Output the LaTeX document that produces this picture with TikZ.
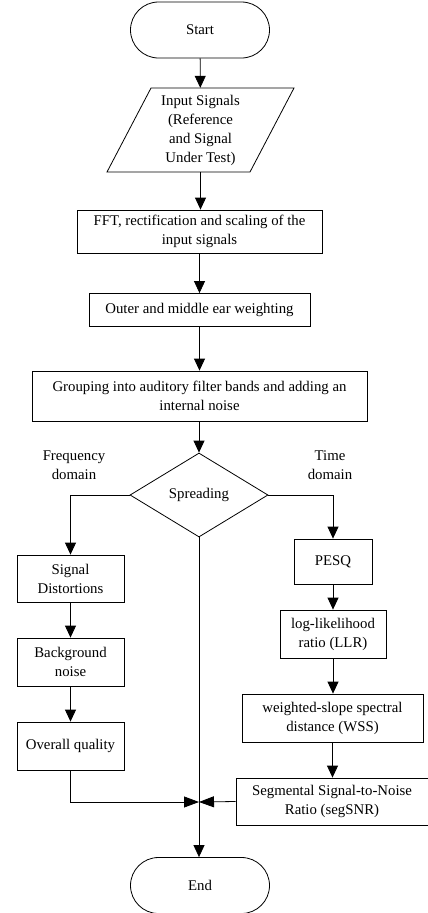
\documentclass[tikz,border=0pt]{standalone}
\usepackage{fontspec}
\setmainfont{Liberation Serif}
\usetikzlibrary{shapes.geometric,shapes.misc,arrows.meta,calc}
\begin{document}
\begin{tikzpicture}[x=1pt,y=-1pt,
  every node/.style={font=\fontsize{14.8}{19}\selectfont, inner sep=0pt, align=center},
  box/.style={draw, line width=0.8pt, minimum width=#1},
  term/.style={draw, line width=0.8pt, rounded rectangle, minimum width=139pt, minimum height=56pt},
  dia/.style={draw, line width=0.8pt, diamond, minimum width=138pt, minimum height=84pt},
  conn/.style={line width=0.8pt, -{Triangle[length=12pt,width=11pt]}},
  joinarr/.style={line width=0.8pt, -{Triangle[length=15pt,width=11pt]}}
]
\useasboundingbox (0,0) rectangle (428,913);
\node[term] (start) at (200,30) {Start};
\node[minimum width=143pt, minimum height=84pt] (inp) at (200.5,130) {Input Signals\\(Reference\\and Signal\\Under Test)};
\draw[line width=0.8pt] ($(inp.center)+(-49.5,-42)$) -- ($(inp.center)+(93.5,-42)$) -- ($(inp.center)+(49.5,42)$) -- ($(inp.center)+(-93.5,42)$) -- cycle;
\node[box=245pt, minimum height=43pt] (fft) at (199.5,231.5) {FFT, rectification and scaling of the\\input signals};
\node[box=221pt, minimum height=33pt] (outer) at (199.5,310) {Outer and middle ear weighting};
\node[box=335pt, minimum height=50pt] (group) at (199.5,396) {Grouping into auditory filter bands and adding an\\internal noise};
\node[dia] (spr) at (199,495) {Spreading};
\node (freq) at (74,465) {Frequency\\domain};
\node (time) at (330,465) {Time\\domain};
\node[box=107pt, minimum height=47pt] (sigd) at (70.5,578.5) {Signal\\Distortions};
\node[box=107pt, minimum height=48pt] (bg) at (70.5,662) {Background\\noise};
\node[box=107pt, minimum height=48pt] (oq) at (70.5,746) {Overall quality};
\node[box=78pt, minimum height=45pt] (pesq) at (333,561.5) {PESQ};
\node[box=106pt, minimum height=48pt] (llr) at (333,634) {log-likelihood\\ratio (LLR)};
\node[box=181pt, minimum height=48pt] (wss) at (332.5,718) {weighted-slope spectral\\distance (WSS)};
\node[box=192pt, minimum height=47pt] (seg) at (332,801.5) {Segmental Signal-to-Noise\\Ratio (segSNR)};
\coordinate (join) at (199,802);
\node[term] (end) at (200,885.5) {End};

\draw[conn] (start) -- (inp);
\draw[conn] (inp.south) -- (fft.north -| inp.south);
\draw[conn] (fft) -- (outer);
\draw[conn] (outer) -- (group);
\draw[conn] (group.south -| spr.north) -- (spr.north);
\draw[conn] (spr.west) -| (sigd.north);
\draw[conn] (spr.east) -| (pesq.north);
\draw[conn] (sigd) -- (bg);
\draw[conn] (bg) -- (oq);
\draw[conn] (pesq) -- (llr);
\draw[conn] (llr) -- (wss.north -| llr.south);
\draw[conn] (wss) -- (seg.north -| wss.south);
\draw[conn] (spr.south) -- (end.north -| spr.south);
\draw[joinarr] (oq.south) |- (join);
\draw[joinarr] (seg.west) -- (join);
\end{tikzpicture}
\end{document}
